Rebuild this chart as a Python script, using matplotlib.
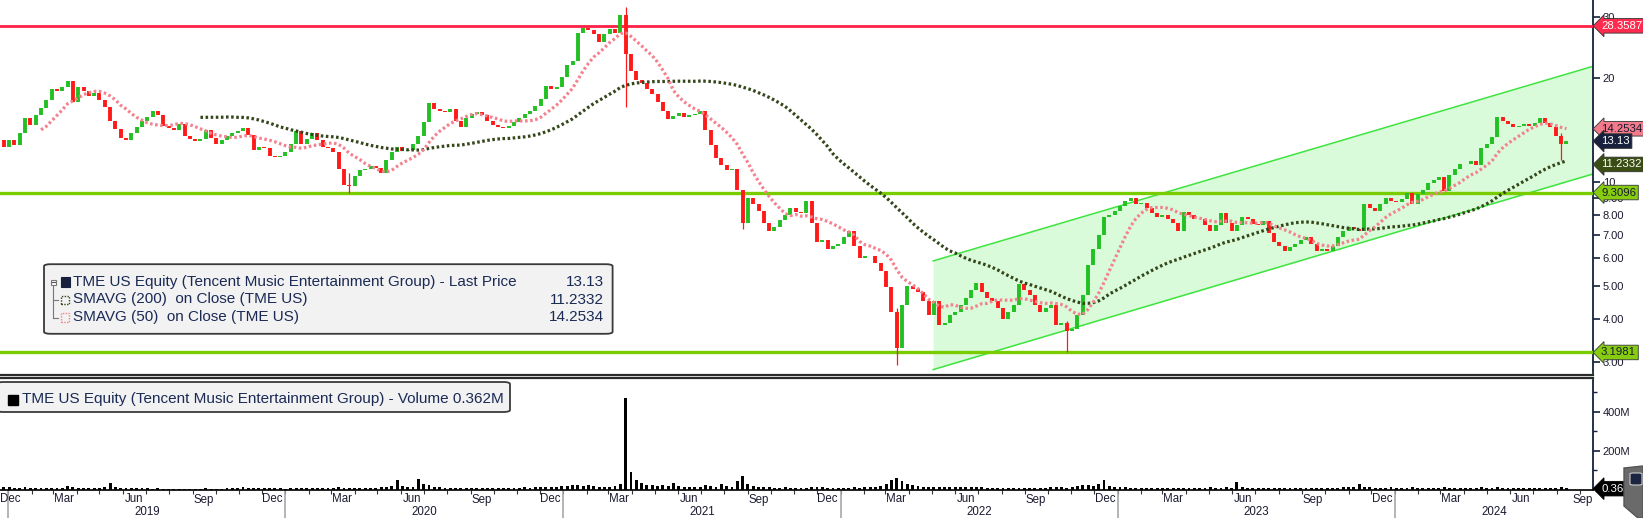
import numpy as np
import pandas as pd
import matplotlib
matplotlib.use("Agg")
import matplotlib.pyplot as plt
import matplotlib.transforms as mtrans
from matplotlib.patches import FancyBboxPatch, Polygon, Rectangle
from matplotlib.lines import Line2D

plt.rcParams['font.family'] = ['Liberation Sans', 'DejaVu Sans']

# ---------------- data (weekly) ----------------
start_date = '2018-12-12'
closes = [
    14.0, 13.2, 12.6, 13.2, 12.8, 13.9, 15.3, 14.6, 15.6, 16.4,
    17.3, 18.6, 18.3, 18.9, 19.6, 17.1, 18.9, 18.4, 17.8, 18.1,
    17.3, 16.5, 15.0, 14.2, 13.4, 13.2, 13.9, 14.4, 15.0, 15.4,
    16.0, 15.6, 14.5, 14.3, 14.1, 14.7, 13.6, 13.3, 13.1, 13.3,
    14.1, 13.4, 12.9, 13.2, 13.6, 13.9, 14.0, 14.3, 13.7, 12.4,
    12.6, 12.5, 11.9, 11.8, 11.9, 12.2, 12.9, 14.0, 12.9, 13.3,
    13.9, 13.2, 12.6, 12.5, 12.2, 10.9, 9.8, 9.7, 10.4, 10.8,
    10.9, 11.1, 11.0, 10.6, 11.6, 12.2, 12.6, 12.3, 12.4, 12.9,
    13.6, 14.9, 16.9, 16.3, 16.1, 15.9, 16.3, 15.0, 14.4, 15.3,
    15.7, 15.9, 15.6, 15.0, 14.6, 14.4, 14.3, 14.5, 14.9, 15.3,
    15.7, 16.1, 16.6, 17.4, 19.0, 18.6, 18.9, 20.2, 21.8, 22.4,
    27.0, 28.0, 27.5, 26.9, 25.5, 26.8, 27.7, 27.0, 30.5, 23.5,
    21.0, 19.8, 19.4, 18.6, 18.0, 17.0, 16.0, 15.2, 15.5, 15.8,
    15.4, 15.6, 15.7, 16.1, 14.1, 12.8, 11.7, 11.2, 10.8, 10.9,
    9.5, 7.6, 9.0, 8.6, 8.25, 7.6, 7.2, 7.4, 7.75, 8.0,
    8.4, 8.2, 8.1, 8.8, 7.6, 6.7, 6.8, 6.4, 6.5, 6.6,
    6.9, 7.2, 6.5, 6.0, 6.1, 6.1, 5.8, 5.5, 4.95, 4.2,
    3.3, 4.4, 5.0, 4.9, 4.8, 4.5, 4.1, 4.5, 3.85, 3.9,
    4.1, 4.2, 4.4, 4.6, 4.85, 5.1, 4.8, 4.6, 4.5, 4.3,
    4.0, 4.2, 4.4, 5.05, 4.85, 4.7, 4.4, 4.2, 4.3, 4.4,
    3.85, 3.9, 3.7, 3.75, 4.1, 4.7, 5.75, 6.4, 7.0, 7.9,
    8.0, 8.25, 8.5, 8.8, 9.0, 8.6, 8.7, 8.4, 8.1, 7.9,
    8.0, 7.8, 7.6, 7.2, 8.2, 8.0, 7.8, 7.8, 7.5, 7.2,
    7.5, 8.1, 7.6, 7.2, 7.5, 7.9, 7.8, 7.55, 7.5, 7.7,
    7.1, 6.7, 6.5, 6.3, 6.45, 6.6, 6.8, 6.9, 6.6, 6.3,
    6.4, 6.3, 6.5, 6.9, 7.2, 7.4, 7.3, 7.2, 8.6, 8.4,
    8.25, 8.6, 9.0, 8.8, 8.75, 8.9, 9.3, 8.6, 9.2, 9.5,
    9.9, 10.1, 10.3, 9.4, 10.5, 10.9, 11.25, 11.3, 11.5, 11.2,
    12.5, 12.9, 13.5, 15.4, 15.0, 14.7, 14.4, 14.5, 14.7, 14.5,
    14.8, 15.3, 14.8, 14.4, 13.6, 12.9, 13.13,
]
volumes_m = [
    60, 25, 15, 12, 10, 9, 15, 10, 8, 7,
    9, 8, 10, 9, 20, 12, 9, 8, 7, 8,
    9, 12, 35, 14, 10, 9, 8, 7, 8, 7,
    6, 7, 6, 5, 6, 5, 6, 5, 5, 6,
    7, 6, 5, 6, 7, 8, 9, 12, 10, 9,
    8, 8, 9, 7, 8, 6, 7, 8, 9, 8,
    7, 8, 9, 10, 9, 12, 11, 10, 9, 8,
    7, 9, 10, 12, 14, 20, 50, 18, 14, 12,
    55, 30, 25, 15, 12, 10, 9, 8, 8, 9,
    10, 11, 10, 9, 8, 9, 10, 9, 8, 10,
    12, 11, 12, 13, 15, 14, 16, 18, 20, 25,
    22, 18, 25, 20, 15, 16, 14, 18, 30, 470,
    90, 50, 35, 25, 22, 20, 22, 18, 35, 20,
    16, 15, 14, 12, 25, 18, 15, 30, 20, 16,
    45, 70, 30, 20, 16, 14, 12, 11, 10, 12,
    11, 10, 9, 10, 12, 14, 12, 11, 10, 9,
    10, 11, 12, 10, 14, 12, 15, 20, 30, 50,
    60, 45, 30, 22, 18, 15, 14, 16, 14, 13,
    12, 14, 15, 16, 14, 13, 12, 10, 9, 8,
    9, 10, 9, 8, 9, 8, 7, 8, 9, 12,
    14, 12, 11, 13, 20, 25, 22, 18, 30, 50,
    20, 16, 14, 12, 11, 10, 10, 9, 8, 9,
    8, 8, 9, 8, 9, 10, 9, 8, 9, 12,
    10, 9, 14, 10, 40, 12, 10, 9, 8, 9,
    8, 9, 10, 11, 9, 10, 9, 8, 9, 10,
    8, 9, 10, 9, 12, 14, 12, 30, 15, 12,
    11, 10, 11, 12, 10, 11, 10, 12, 11, 10,
    9, 10, 11, 12, 10, 11, 10, 9, 10, 11,
    12, 10, 9, 12, 11, 10, 9, 8, 9, 10,
    9, 8, 9, 10, 9, 15, 8,
]
wick_weeks = [67, 119, 141, 170, 202, 295]
wick_lows = [9.3, 16.5, 7.3, 2.95, 3.2, 11.6]
wick_highs = [10.6, 32.2, 9.4, 4.3, 3.95, 13.9]

sma_short_weeks = 10   # ~50 trading days
sma_long_weeks = 40    # ~200 trading days

red_level = 28.3587
green_levels = [9.3096, 3.1981]
channel_dates = ['2022-05-03', '2024-09-18']
channel_upper = [5.896, 21.64]
channel_lower = [2.852, 10.54]

last_price = 13.13
sma200_last = 11.2332
sma50_last = 14.2534
last_volume_m = 0.362

price_ticks = [3, 4, 5, 6, 7, 8, 9, 10, 20, 30]
price_tick_labels = ['3.00', '4.00', '5.00', '6.00', '7.00', '8.00', '9.00', '10', '20', '30']
vol_ticks = [200, 400]
vol_tick_labels = ['200M', '400M']
vol_minor = [100, 300, 500]
quarter_months = [12, 3, 6, 9]
quarter_labels = ['Dec', 'Mar', 'Jun', 'Sep']
years = [2019, 2020, 2021, 2022, 2023, 2024]

x_left, x_right = pd.Timestamp('2018-12-21'), pd.Timestamp('2024-09-18')
price_lim = (2.788, 33.7)
vol_lim = (0, 563)

# ---------------- figure ----------------
W, H = 1643, 518
fig = plt.figure(figsize=(W / 100, H / 100), dpi=100)
fig.patch.set_facecolor('white')

def fx(x):
    return x / W

def fy(y):
    return 1 - y / H

ax_right = 1593
p_top, p_bot = 0, 373
v_top, v_bot = 380, 489.7
ax_p = fig.add_axes([0, fy(p_bot), fx(ax_right), (p_bot - p_top) / H])
ax_v = fig.add_axes([0, fy(v_bot), fx(ax_right), (v_bot - v_top) / H])

navy = '#14203c'
up_c, dn_c = '#22c022', '#ff1a1a'

dates = pd.date_range(start_date, periods=len(closes), freq='7D')
c = np.array(closes)
o = np.concatenate([[closes[0]], c[:-1]])
cols = [up_c if cc >= oo else dn_c for oo, cc in zip(o, c)]

# channel
cd = pd.to_datetime(channel_dates)
ax_p.fill_between(cd, channel_lower, channel_upper, color='#d9fbd9', zorder=1, lw=0)
ax_p.plot(cd, channel_upper, color='#3ee43e', lw=1.1, zorder=2)
ax_p.plot(cd, channel_lower, color='#3ee43e', lw=1.1, zorder=2)

# horizontal levels
ax_p.axhline(red_level, color='#ff2046', lw=2.0, zorder=3)
for g in green_levels:
    ax_p.axhline(g, color='#78cc00', lw=2.4, zorder=3)

# candles
ax_p.vlines(dates[wick_weeks], wick_lows, wick_highs,
            colors=[cols[i] for i in wick_weeks], lw=0.9, zorder=4)
ax_p.vlines(dates, np.minimum(o, c), np.maximum(o, c), colors=cols, lw=2.8, zorder=4)

# moving averages
s = pd.Series(closes)
sma_s = s.rolling(sma_short_weeks).mean()
sma_l = s.rolling(sma_long_weeks).mean()
ax_p.plot(dates, sma_l, color='#34461a', lw=2.3, ls=(0, (0.8, 0.8)), zorder=5)
ax_p.plot(dates, sma_s, color='#f4818e', lw=2.3, ls=(0, (0.8, 0.8)), zorder=5)

ax_p.set_yscale('log')
ax_p.set_ylim(*price_lim)
ax_p.set_xlim(x_left, x_right)
ax_p.yaxis.tick_right()
ax_p.set_yticks(price_ticks)
ax_p.set_yticklabels(price_tick_labels)
ax_p.yaxis.set_minor_locator(matplotlib.ticker.NullLocator())
ax_p.tick_params(axis='y', direction='out', length=5, width=1.2, color=navy,
                 labelsize=8, labelcolor='#1a1a30', pad=2)
ax_p.set_xticks([])
for sp in ['left', 'top', 'bottom']:
    ax_p.spines[sp].set_visible(False)
ax_p.spines['right'].set_color(navy)
ax_p.spines['right'].set_linewidth(1.3)
ax_p.set_facecolor('none')

# right value tags
trans_p = mtrans.blended_transform_factory(ax_p.transAxes, ax_p.transData)
tags = [
    (red_level, f'{red_level:.4f}', '#ff2b4f', 'white'),
    (sma50_last, f'{sma50_last:.4f}', '#f27a8a', '#1a1a30'),
    (last_price, f'{last_price:.2f}', '#17213d', 'white'),
    (sma200_last, f'{sma200_last:.4f}', '#3a4d12', 'white'),
    (green_levels[0], f'{green_levels[0]:.4f}', '#86cc10', '#1a1a30'),
    (green_levels[1], f'{green_levels[1]:.4f}', '#86cc10', '#1a1a30'),
]
tag_dx = 8 / ax_right
for val, txt, fc, tc in tags:
    ax_p.text(1.0 + tag_dx, val, txt, transform=trans_p, ha='left', va='center',
              fontsize=8.2, color=tc, clip_on=False, zorder=10,
              bbox=dict(boxstyle='larrow,pad=0.2', fc=fc, ec='#333333', lw=0.6))

# ---------------- volume ----------------
ax_v.bar(dates, volumes_m, width=3.8, color='black', zorder=3)
ax_v.set_xlim(x_left, x_right)
ax_v.set_ylim(*vol_lim)
ax_v.yaxis.tick_right()
ax_v.set_yticks(vol_ticks)
ax_v.set_yticklabels(vol_tick_labels)
ax_v.set_yticks(vol_minor, minor=True)
ax_v.tick_params(axis='y', which='major', direction='out', length=5, width=1.2, color=navy,
                 labelsize=8, labelcolor='#1a1a30', pad=2)
ax_v.tick_params(axis='y', which='minor', direction='out', length=3, width=1, color=navy)
ax_v.xaxis.set_major_locator(matplotlib.dates.MonthLocator())
ax_v.tick_params(axis='x', which='major', direction='out', length=3, width=0.8,
                 color='#333333', labelbottom=False)
for sp in ['left', 'top']:
    ax_v.spines[sp].set_visible(False)
ax_v.spines['right'].set_color(navy)
ax_v.spines['right'].set_linewidth(1.3)
ax_v.spines['bottom'].set_color('#111111')
ax_v.spines['bottom'].set_linewidth(1.3)
ax_v.set_facecolor('none')

trans_v = mtrans.blended_transform_factory(ax_v.transData, ax_v.transAxes)
vh = v_bot - v_top
y_month = -(499.5 - v_bot) / vh
y_year = -(512 - v_bot) / vh
lab_kw = dict(va='center', fontsize=8.3, color='#1a1a30', clip_on=False)
for yr in range(2018, 2025):
    for m, name in zip(quarter_months, quarter_labels):
        d = pd.Timestamp(year=yr, month=m, day=15)
        if d < pd.Timestamp('2018-12-01') or d > pd.Timestamp('2024-09-30'):
            continue
        if d < x_left:
            ax_v.text(0.0, y_month, name, transform=ax_v.transAxes, ha='left', **lab_kw)
        elif d > x_right - pd.Timedelta(days=10):
            ax_v.text(1.0, y_month, name, transform=ax_v.transAxes, ha='right', **lab_kw)
        else:
            ax_v.text(d, y_month, name, transform=trans_v, ha='center', **lab_kw)

for yr in years:
    ys = pd.Timestamp(year=yr, month=1, day=1)
    ye = min(pd.Timestamp(year=yr + 1, month=1, day=1), x_right)
    mid = ys + (ye - ys) / 2
    ax_v.text(mid, y_year, str(yr), transform=trans_v, ha='center', **lab_kw)
    ax_v.add_line(Line2D([ys, ys], [0, -(H - v_bot) / vh], transform=trans_v,
                         color='#a8a8a8', lw=1.2, clip_on=False))

# volume last tag
ax_v.text(1.0 + tag_dx, last_volume_m + 5, f'{last_volume_m:.3f}M',
          transform=mtrans.blended_transform_factory(ax_v.transAxes, ax_v.transData),
          ha='left', va='center', fontsize=8.2, color='white', clip_on=False, zorder=10,
          bbox=dict(boxstyle='larrow,pad=0.2', fc='black', ec='black', lw=0.6))

# ---------------- panel separator ----------------
fig.add_artist(Line2D([0, fx(ax_right)], [fy(374.8), fy(374.8)], color='#2b2b2b', lw=1.6))
fig.add_artist(Line2D([0, fx(ax_right)], [fy(378.3), fy(378.3)], color='#2b2b2b', lw=1.6))

# ---------------- legends ----------------
leg = FancyBboxPatch((fx(44), fy(333.8)), fx(612.6) - fx(44), fy(264.2) - fy(333.8),
                     boxstyle='round,pad=0,rounding_size=0.004', transform=fig.transFigure,
                     fc='#f2f2f2', ec='#3a3a3a', lw=1.3, zorder=20)
fig.add_artist(leg)
leg_rows = [
    ('TME US Equity (Tencent Music Entertainment Group) - Last Price', f'{last_price:.2f}'),
    ('SMAVG (200)  on Close (TME US)', f'{sma200_last:.4f}'),
    ('SMAVG (50)  on Close (TME US)', f'{sma50_last:.4f}'),
]
row_y = [282.0, 299.5, 317.0]
for (lab, val), yy in zip(leg_rows, row_y):
    fig.text(fx(73), fy(yy), lab, ha='left', va='center', fontsize=11, color='#1b2a55', zorder=21)
    fig.text(fx(604), fy(yy), val, ha='right', va='center', fontsize=11, color='#1b2a55', zorder=21)
# tree icon
fig.add_artist(Rectangle((fx(50.5), fy(285)), fx(5.5), 5.5 / H, transform=fig.transFigure,
                         fc='white', ec='#777777', lw=0.8, zorder=21))
fig.add_artist(Line2D([fx(51.5), fx(55)], [fy(282.3), fy(282.3)], color='#555555', lw=0.8, zorder=22))
fig.add_artist(Line2D([fx(53.2), fx(53.2)], [fy(285.5), fy(317.5)], color='#777777', lw=0.8, zorder=21))
fig.add_artist(Line2D([fx(53.2), fx(58)], [fy(299.5), fy(299.5)], color='#777777', lw=0.8, zorder=21))
fig.add_artist(Line2D([fx(53.2), fx(58)], [fy(317.5), fy(317.5)], color='#777777', lw=0.8, zorder=21))
fig.add_artist(Rectangle((fx(60.5), fy(286.5)), fx(9.5), 9.5 / H, transform=fig.transFigure,
                         fc='#17213d', ec='#17213d', lw=0.8, zorder=21))
fig.add_artist(Rectangle((fx(60.5), fy(304)), fx(8.5), 8.5 / H, transform=fig.transFigure,
                         fc='none', ec='#34461a', lw=1.0, ls=(0, (1, 1)), zorder=21))
fig.add_artist(Rectangle((fx(60.5), fy(321.5)), fx(8.5), 8.5 / H, transform=fig.transFigure,
                         fc='none', ec='#f4818e', lw=1.0, ls=(0, (1, 1)), zorder=21))

vleg = FancyBboxPatch((fx(-3), fy(412)), fx(510) - fx(-3), fy(382) - fy(412),
                      boxstyle='round,pad=0,rounding_size=0.004', transform=fig.transFigure,
                      fc='#f2f2f2', ec='#3a3a3a', lw=1.3, zorder=20)
fig.add_artist(vleg)
fig.add_artist(Rectangle((fx(8), fy(404.5)), fx(10), 10 / H, transform=fig.transFigure,
                         fc='black', ec='black', zorder=21))
fig.text(fx(22), fy(399.5), 'TME US Equity (Tencent Music Entertainment Group) - Volume 0.362M',
         ha='left', va='center', fontsize=11, color='#1b2a55', zorder=21)

# scroll button bottom-right
btn = Polygon([(fx(1624), fy(468)), (fx(1643), fy(466)), (fx(1643), fy(518)),
               (fx(1638), fy(518)), (fx(1624), fy(506))], closed=True,
              transform=fig.transFigure, fc='#6a6a6a', ec='#555555', zorder=30)
fig.add_artist(btn)
fig.add_artist(FancyBboxPatch((fx(1630), fy(485)), fx(12), 12 / H, boxstyle='round,pad=0,rounding_size=0.002',
                              transform=fig.transFigure, fc='#1c2540', ec='#cccccc', lw=0.8, zorder=31))

fig.savefig('out.png', dpi=100, facecolor='white')
